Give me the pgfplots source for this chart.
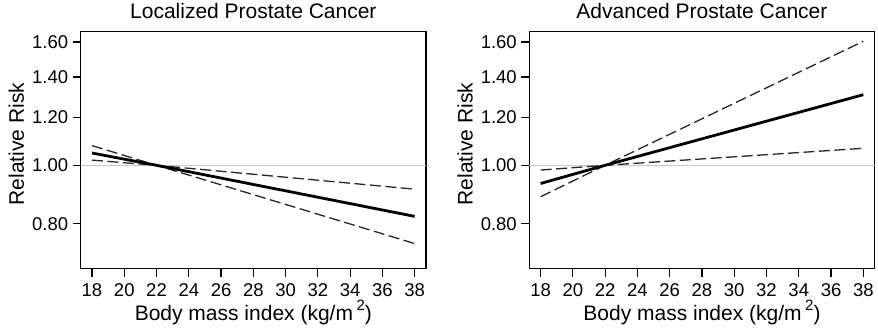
\documentclass[border=0pt]{standalone}
\usepackage{fontspec}
\setmainfont{Liberation Sans}
\usepackage{pgfplots}
\pgfplotsset{compat=1.18}
\definecolor{refgray}{RGB}{200,200,200}
\pgfplotsset{
  every axis/.append style={
    scale only axis, width=345.3pt, height=237.4pt,
    anchor=south west,
    xmin=17.3, xmax=38.7, ymin=0.674, ymax=1.667,
    xtick={18,20,...,38},
    ytick={0.8,1.0,1.2,1.4,1.6},
    yticklabels={0.80,1.00,1.20,1.40,1.60},
    tick align=outside, tick pos=left,
    major tick length=8pt,
    minor tick num=0,
    axis line style={line width=1.2pt},
    every tick/.style={black, line width=1.2pt},
    /pgf/number format/assume math mode=true,
    ticklabel style={font=\fontsize{18.5}{20}\selectfont},
    yticklabel style={xshift=-1pt},
    xticklabel style={yshift=-3pt},
    label style={font=\fontsize{21}{24}\selectfont},
    title style={font=\fontsize{21}{24}\selectfont, at={(0.5,1)}, anchor=base, yshift=6.8pt},
    xlabel={Body mass index (kg/m\,\raisebox{0.45em}{\fontsize{15}{16}\selectfont 2})},
    ylabel={Relative Risk},
    xlabel style={at={(0.5,0)}, anchor=base, yshift=-51.6pt},
    ylabel style={at={(0,0.525)}, anchor=base, yshift=56.7pt},
  },
}
\tikzset{
  est/.style={black, line width=2.8pt},
  ci/.style={black!85, line width=1.3pt, dash pattern=on 11pt off 4.5pt},
  refline/.style={refgray, line width=1.2pt},
}
\begin{document}
\begin{tikzpicture}
\path (0,0) rectangle (878pt,326pt);
\begin{axis}[ymode=log, at={(80.7pt,59.3pt)}, title={Localized Prostate Cancer}]
\addplot[refline] coordinates {(17.3,1) (38.7,1)};
\addplot[ci] coordinates {(18,1.078) (22,1.0) (38,0.742)};
\addplot[ci] coordinates {(18,1.020) (22,1.0) (38,0.913)};
\addplot[est] coordinates {(18,1.048) (22,1.0) (38,0.823)};
\end{axis}
\begin{axis}[ymode=log, at={(529.3pt,59.3pt)}, title={Advanced Prostate Cancer}]
\addplot[refline] coordinates {(17.3,1) (38.7,1)};
\addplot[ci] coordinates {(18,0.887) (22,1.0) (38,1.605)};
\addplot[ci] coordinates {(18,0.982) (22,1.0) (38,1.067)};
\addplot[est] coordinates {(18,0.933) (22,1.0) (38,1.309)};
\end{axis}
\end{tikzpicture}
\end{document}
